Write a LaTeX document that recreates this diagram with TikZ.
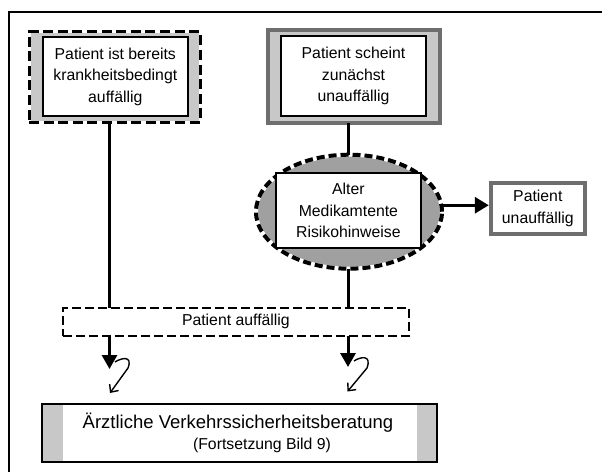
\documentclass[tikz,border=0pt]{standalone}
\usepackage{fontspec}
\setmainfont{Liberation Sans}
\usetikzlibrary{arrows.meta,shapes.geometric}
\definecolor{lgray}{RGB}{200,200,200}
\definecolor{mgray}{RGB}{160,160,160}
\definecolor{dgray}{RGB}{110,110,110}
\begin{document}
\begin{tikzpicture}[x=1pt,y=-1pt,
  every node/.style={outer sep=0pt, inner sep=0pt},
  txt/.style={font=\fontsize{15.8}{21.5}\selectfont, align=center},
  dashframe/.style={fill=lgray, draw=white, line width=3pt,
     postaction={draw=black, line width=3pt, dash pattern=on 10pt off 4.6pt}},
  innerbox/.style={draw=black, line width=2pt, fill=white, txt},
  greyframe/.style={draw=dgray, line width=4pt},
  dotellipse/.style={ellipse, fill=mgray, draw=white, line width=4pt,
     postaction={draw=black, line width=4pt, dash pattern=on 8pt off 4pt}},
  dashbox/.style={draw=black, line width=2pt, dash pattern=on 9pt off 4pt, fill=white, txt},
  conn/.style={draw=black, line width=3pt},
  bigarrow/.style={conn, -{Triangle[length=14pt,width=15pt]}},
  bolt/.style={draw=black, line width=1.4pt, line join=round, -{Straight Barb[length=6pt,width=11pt,line width=1.4pt]}}
]
\useasboundingbox (0,0) rectangle (602,472);
\fill[white] (0,0) rectangle (602,472);
\draw[line width=1.5pt] (9,472) -- (9,12) -- (602,12);

% top left box
\node[dashframe, minimum width=171pt, minimum height=91pt] (Aout) at (114.5,77) {};
\node[innerbox, minimum width=145pt, minimum height=79pt] (A) at (115.3,76.5)
  {Patient ist bereits\\krankheitsbedingt\\auffällig};

% top right box
\node[greyframe, fill=lgray, minimum width=172pt, minimum height=93pt] (Bout) at (354,76.5) {};
\node[innerbox, minimum width=145pt, minimum height=80pt] (B) at (353.5,76)
  {Patient scheint\\zunächst\\unauffällig};

% ellipse
\node[dotellipse, minimum width=186pt, minimum height=114pt] (ell) at (349,211.7) {};
\node[innerbox, line width=1.5pt, minimum width=145pt, minimum height=75pt] (E) at (348.4,210.7)
  {Alter\\Medikamtente\\Risikohinweise};

% patient unauffaellig
\node[greyframe, fill=white, txt, minimum width=94pt, minimum height=51pt] (pu) at (537.8,208.5)
  {Patient\\unauffällig};

% patient auffaellig
\node[dashbox, minimum width=346pt, minimum height=28pt] (auff) at (235.9,321.9) {Patient auffällig};

% bottom box
\node[draw=black, line width=2pt, fill=white, minimum width=395.6pt, minimum height=58pt] (bot) at (239.5,432.7) {};
\fill[lgray] ([xshift=1pt,yshift=-1pt]bot.north west) rectangle ([xshift=21pt,yshift=1pt]bot.south west);
\fill[lgray] ([xshift=-20pt,yshift=-1pt]bot.north east) rectangle ([xshift=-1pt,yshift=1pt]bot.south east);
\node[font=\fontsize{18.5}{22}\selectfont] (t1) at (238,423) {Ärztliche Verkehrssicherheitsberatung};
\node[txt] (t2) at (262,445) {(Fortsetzung Bild 9)};

% connectors
\coordinate (c1) at (109.5,0);
\coordinate (c2) at (348,0);
\draw[conn] (c1 |- Aout.south) -- (c1 |- auff.north);
\draw[conn] (c2 |- Bout.south) -- (c2 |- ell.north);
\draw[conn] (c2 |- ell.south) -- (c2 |- auff.north);
\draw[conn, -{Triangle[length=14pt,width=16pt]}] (ell.4) -- ([xshift=-2pt]ell.4 -| pu.west);

% lightning arrows
\coordinate (h1) at (109.5,369);
\coordinate (s1) at (115,362);
\coordinate (z1) at (110,393);
\draw[bigarrow] (c1 |- auff.south) -- (h1);
\draw[bolt] (s1) .. controls (121,358) and (133,355) .. (128,368) -- (z1);

\coordinate (h2) at (348,367);
\coordinate (s2) at (354,361);
\coordinate (z2) at (347.5,391.5);
\draw[bigarrow] (c2 |- auff.south) -- (h2);
\draw[bolt] (s2) .. controls (360,357) and (372,354) .. (367,368) -- (z2);
\end{tikzpicture}
\end{document}
